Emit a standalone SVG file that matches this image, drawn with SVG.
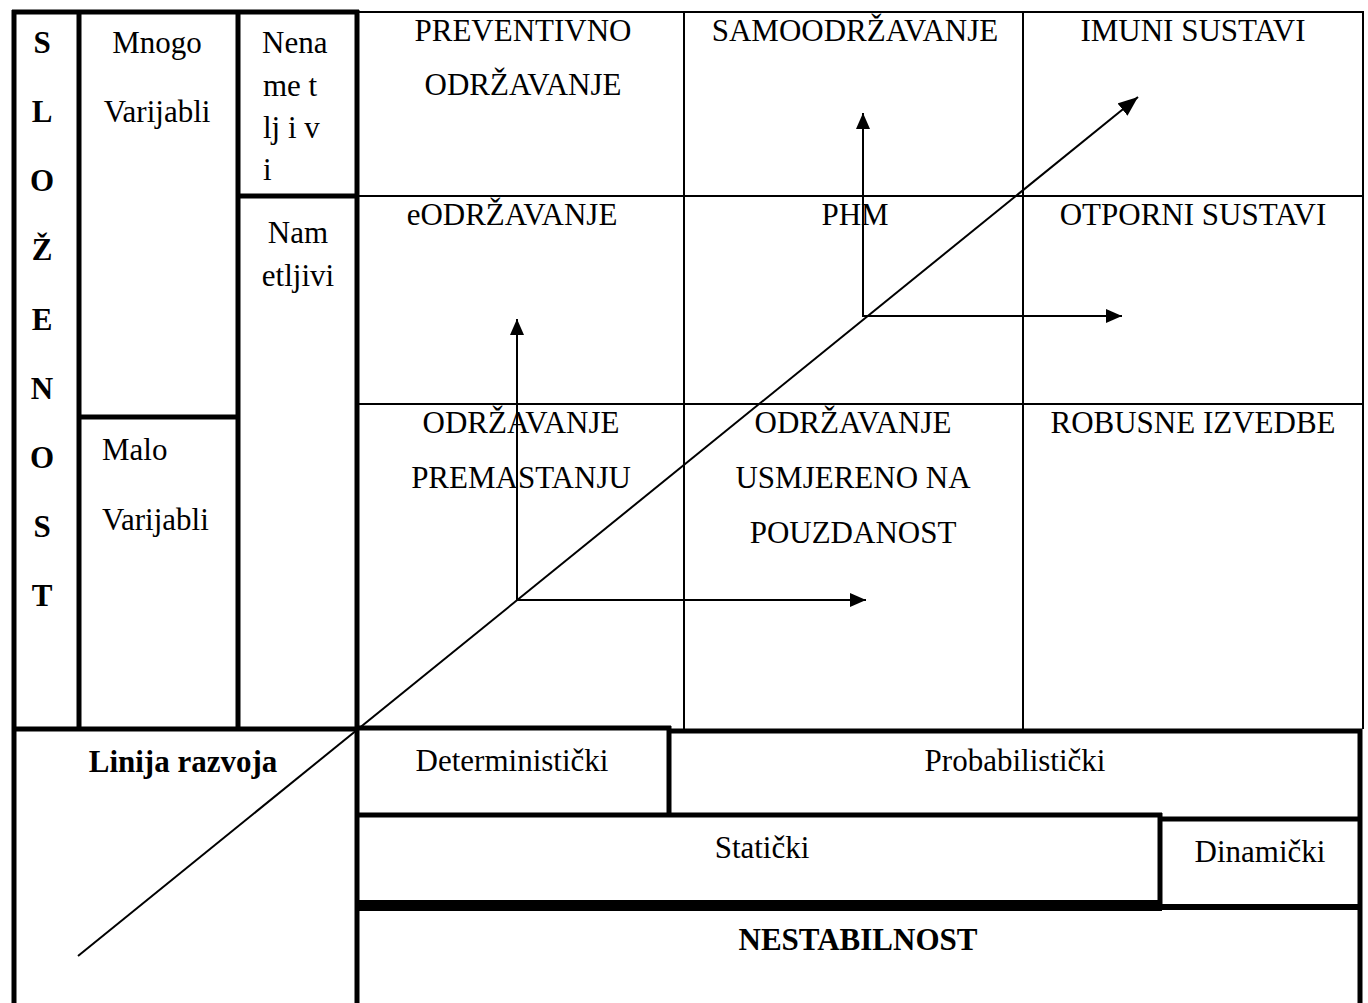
<svg xmlns="http://www.w3.org/2000/svg" width="1368" height="1003" viewBox="0 0 1368 1003">
<defs>
<style>
.t{font-family:"Liberation Serif","Times New Roman",serif;font-size:31px;fill:#000}
.c{text-anchor:middle}
.b{font-weight:bold}
.thick{stroke:#000;stroke-width:5;fill:none}
.thin{stroke:#000;stroke-width:2;fill:none}
.arr{stroke:#000;stroke-width:2;fill:none}
</style>
<marker id="ah" markerUnits="userSpaceOnUse" markerWidth="16" markerHeight="14" refX="16" refY="7" orient="auto">
<path d="M0,0 L16,7 L0,14 z" fill="#000"/>
</marker>
<marker id="ahd" markerUnits="userSpaceOnUse" markerWidth="20" markerHeight="16" refX="20" refY="8" orient="auto">
<path d="M0,0 L20,8 L0,16 z" fill="#000"/>
</marker>
</defs>
<rect width="1368" height="1003" fill="#fff"/>

<g id="grid-thin">
<line class="thin" x1="357" y1="12" x2="1364" y2="12"/>
<line class="thin" x1="684" y1="12" x2="684" y2="729"/>
<line class="thin" x1="1023" y1="12" x2="1023" y2="729"/>
<line class="thin" x1="1363" y1="12" x2="1363" y2="729"/>
<line class="thin" x1="357" y1="196" x2="1364" y2="196"/>
<line class="thin" x1="357" y1="404" x2="1364" y2="404"/>
</g>

<g id="frame-thick">
<line class="thick" x1="12" y1="12" x2="359" y2="12"/>
<line class="thick" x1="14" y1="10" x2="14" y2="1003"/>
<line class="thick" x1="79" y1="12" x2="79" y2="729"/>
<line class="thick" x1="238" y1="12" x2="238" y2="729"/>
<line class="thick" x1="357" y1="10" x2="357" y2="1003"/>
<line class="thick" x1="238" y1="196" x2="357" y2="196"/>
<line class="thick" x1="79" y1="417" x2="238" y2="417"/>
<line class="thick" x1="12" y1="729" x2="359" y2="729"/>
<line class="thick" x1="357" y1="728" x2="671" y2="728"/>
<line class="thick" x1="669" y1="726" x2="669" y2="817"/>
<line class="thick" x1="669" y1="731" x2="1362" y2="731"/>
<line class="thick" x1="1360" y1="729" x2="1360" y2="1003"/>
<line class="thick" x1="357" y1="815" x2="1162" y2="815"/>
<line class="thick" x1="1160" y1="819" x2="1362" y2="819"/>
<line class="thick" x1="1160" y1="813" x2="1160" y2="905"/>
<rect x="357" y="900" width="805" height="11" fill="#000"/>
<line class="thick" x1="1160" y1="907" x2="1362" y2="907" style="stroke-width:6"/>
</g>

<g id="slozenost">
<text class="t b c" x="42" y="53">S</text>
<text class="t b c" x="42" y="122">L</text>
<text class="t b c" x="42" y="191">O</text>
<text class="t b c" x="42" y="260">Ž</text>
<text class="t b c" x="42" y="330">E</text>
<text class="t b c" x="42" y="399">N</text>
<text class="t b c" x="42" y="468">O</text>
<text class="t b c" x="42" y="537">S</text>
<text class="t b c" x="42" y="606">T</text>
</g>
<g id="mnogo-varijabli">
<text class="t c" x="157" y="53">Mnogo</text>
<text class="t c" x="157" y="122">Varijabli</text>
</g>
<g id="malo-varijabli">
<text class="t" x="102" y="460">Malo</text>
<text class="t" x="102" y="530">Varijabli</text>
</g>
<g id="nenametljivi">
<text class="t" x="262" y="53">Nena</text>
<text class="t" x="263" y="96">me t</text>
<text class="t" x="263" y="138">lj i v</text>
<text class="t" x="263" y="180">i</text>
</g>
<g id="nametljivi">
<text class="t c" x="298" y="243">Nam</text>
<text class="t c" x="298" y="286">etljivi</text>
</g>

<g id="preventivno">
<text class="t c" x="523" y="41">PREVENTIVNO</text>
<text class="t c" x="523" y="95">ODRŽAVANJE</text>
</g>
<g id="samoodrzavanje"><text class="t c" x="855" y="41">SAMOODRŽAVANJE</text></g>
<g id="imuni"><text class="t c" x="1193" y="41">IMUNI SUSTAVI</text></g>
<g id="eodrzavanje"><text class="t c" x="512" y="225">eODRŽAVANJE</text></g>
<g id="phm"><text class="t c" x="855" y="225">PHM</text></g>
<g id="otporni"><text class="t c" x="1193" y="225">OTPORNI SUSTAVI</text></g>
<g id="premastanju">
<text class="t c" x="521" y="433">ODRŽAVANJE</text>
<text class="t c" x="521" y="488">PREMASTANJU</text>
</g>
<g id="pouzdanost">
<text class="t c" x="853" y="433">ODRŽAVANJE</text>
<text class="t c" x="853" y="488">USMJERENO NA</text>
<text class="t c" x="853" y="543">POUZDANOST</text>
</g>
<g id="robusne"><text class="t c" x="1193" y="433">ROBUSNE IZVEDBE</text></g>

<g id="linija"><text class="t b c" x="183" y="772">Linija razvoja</text></g>
<g id="deterministicki"><text class="t c" x="512" y="771">Deterministički</text></g>
<g id="probabilisticki"><text class="t c" x="1015" y="771">Probabilistički</text></g>
<g id="staticki"><text class="t c" x="762" y="858">Statički</text></g>
<g id="dinamicki"><text class="t c" x="1260" y="862">Dinamički</text></g>
<g id="nestabilnost"><text class="t b c" x="858" y="950">NESTABILNOST</text></g>

<g id="connectors">
<line class="arr" x1="78" y1="956" x2="1138" y2="97" marker-end="url(#ahd)"/>
<line class="arr" x1="517" y1="600" x2="517" y2="319" marker-end="url(#ah)"/>
<line class="arr" x1="516" y1="600" x2="866" y2="600" marker-end="url(#ah)"/>
<line class="arr" x1="863" y1="317" x2="863" y2="113" marker-end="url(#ah)"/>
<line class="arr" x1="862" y1="316" x2="1122" y2="316" marker-end="url(#ah)"/>
</g>
</svg>
